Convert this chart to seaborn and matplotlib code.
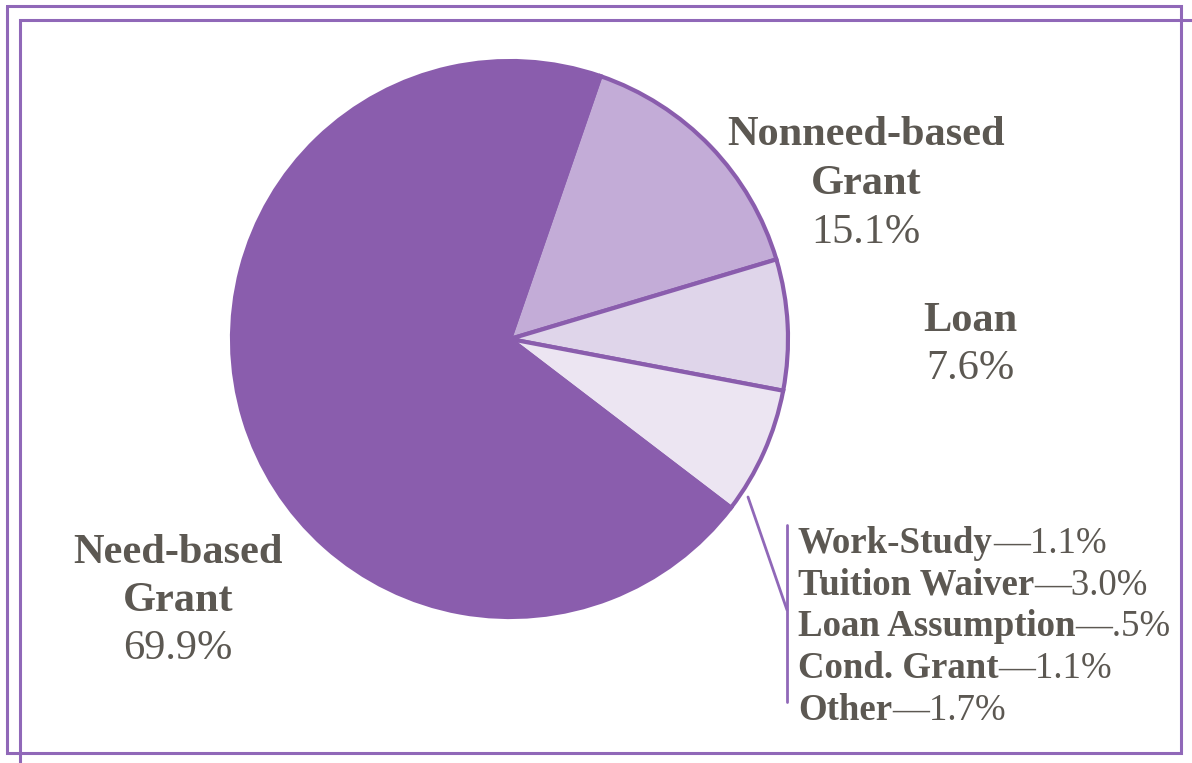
import matplotlib
matplotlib.use("Agg")
import matplotlib.pyplot as plt
import seaborn as sns

# data
slices = ["Nonneed-based\nGrant", "Loan", "Other aid", "Need-based\nGrant"]
shares = [15.1, 7.6, 7.4, 69.9]
slice_colors = ["#C3ACD7", "#DFD5EA", "#ECE5F2", "#8A5DAD"]

other_names = ["Work-Study", "Tuition Waiver", "Loan Assumption", "Cond. Grant", "Other"]
other_labels = ["1.1%", "3.0%", ".5%", "1.1%", "1.7%"]

sns.set_theme(style="white")
plt.rcParams["font.family"] = ["Liberation Serif", "DejaVu Serif"]

W, H = 1192, 763
purple = "#8A5DAD"
frame_col = "#9068B8"
txt_col = "#5C5852"

fig = plt.figure(figsize=(W / 100, H / 100), dpi=100)

# overlay axes in pixel coordinates
ov = fig.add_axes([0, 0, 1, 1])
ov.set_xlim(0, W)
ov.set_ylim(H, 0)
ov.axis("off")

# pie
cx, cy, r = 510, 339, 278
ax = fig.add_axes([(cx - r) / W, (H - cy - r) / H, 2 * r / W, 2 * r / H])
wedges, _ = ax.pie(shares, colors=slice_colors, startangle=71, counterclock=False,
                   wedgeprops=dict(edgecolor=purple, linewidth=3.0))
ax.set_xlim(-1, 1)
ax.set_ylim(-1, 1)
ax.axis("off")

# frames
ov.plot([7, 1181, 1181, 7, 7], [6, 6, 753, 753, 6], color=frame_col, lw=2.2,
        solid_joinstyle="miter", clip_on=False)
ov.plot([W + 5, 20, 20], [20, 20, H + 5], color=frame_col, lw=2.2,
        solid_joinstyle="miter", clip_on=False)

big = 30.5


def label(x, lines, baselines, ha="center"):
    for i, (s, yb) in enumerate(zip(lines, baselines)):
        ov.text(x, yb, s, ha=ha, va="baseline", fontsize=big, color=txt_col,
                fontweight="bold" if i < len(lines) - 1 else "normal")


label(866, ["Nonneed-based", "Grant", f"{shares[0]}%"], [145, 194, 243])
label(970, ["Loan", f"{shares[1]}%"], [331, 379])
label(178, ["Need-based", "Grant", f"{shares[3]}%"], [563, 611, 659])

# callout for the small items
ov.plot([748, 787], [497, 610], color=frame_col, lw=2.0)
ov.plot([787, 787], [525, 702], color=frame_col, lw=2.0)

fig.canvas.draw()
renderer = fig.canvas.get_renderer()
inv = ov.transData.inverted()
small = 26.6
for i, (name, val) in enumerate(zip(other_names, other_labels)):
    yb = 553 + i * 41.7
    t = ov.text(798, yb, name, ha="left", va="baseline", fontsize=small,
                fontweight="bold", color=txt_col)
    bb = t.get_window_extent(renderer)
    x_end = inv.transform((bb.x1, bb.y0))[0]
    ov.text(x_end, yb, "\u2014" + val, ha="left", va="baseline", fontsize=small,
            color=txt_col)

fig.savefig("out.png", dpi=100)
